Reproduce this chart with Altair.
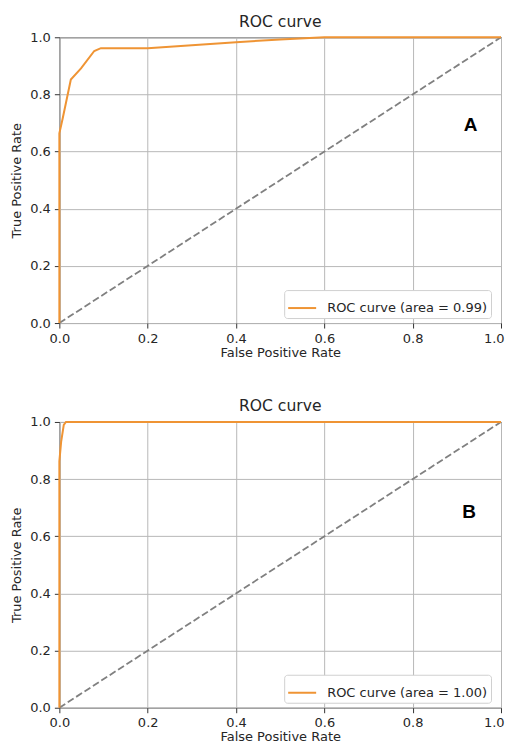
import altair as alt
import pandas as pd

# ---- data ----
fpr_a = [0.0, 0.0, 0.0075, 0.026, 0.049, 0.079, 0.094, 0.2, 0.3, 0.4, 0.5, 0.6, 1.0]
tpr_a = [0.0, 0.664, 0.716, 0.852, 0.891, 0.952, 0.962, 0.962, 0.972, 0.983, 0.992, 1.0, 1.0]
label_a = "ROC curve (area = 0.99)"

fpr_b = [0.0, 0.0, 0.004, 0.01, 0.015, 1.0]
tpr_b = [0.0, 0.862, 0.93, 0.99, 1.0, 1.0]
label_b = "ROC curve (area = 1.00)"

diag_x = [0.0, 1.0]
diag_y = [0.0, 1.0]

panel_letters = ["A", "B"]
letter_x = [0.931, 0.928]
letter_y = [0.693, 0.685]

tick_vals = [0.0, 0.2, 0.4, 0.6, 0.8, 1.0]
title_text = "ROC curve"
x_title = "False Positive Rate"
y_title = "True Positive Rate"

ORANGE = "#ef9434"
FONT = "DejaVu Sans"
TXT = "#262626"


def panel(fpr, tpr, label, letter, lx, ly):
    roc = pd.DataFrame({"fpr": fpr, "tpr": tpr, "idx": list(range(len(fpr))), "series": [label] * len(fpr)})
    diag = pd.DataFrame({"fpr": diag_x, "tpr": diag_y})
    let = pd.DataFrame({"fpr": [lx], "tpr": [ly], "t": [letter]})

    xenc = alt.X("fpr:Q", scale=alt.Scale(domain=[0, 1], nice=False, zero=False),
                 axis=alt.Axis(values=tick_vals, format=".1f", title=x_title, labelFlush=False,
                               titlePadding=1,
                               labelAlign=alt.expr("datum.value >= 1 ? 'right' : 'center'"),
                               labelOffset=alt.expr("datum.value >= 1 ? 3 : 0")))
    yenc = alt.Y("tpr:Q", scale=alt.Scale(domain=[0, 1], nice=False, zero=False),
                 axis=alt.Axis(values=tick_vals, format=".1f", title=y_title, labelFlush=False))

    diag_layer = alt.Chart(diag).mark_line(color="#808080", strokeWidth=1.8, strokeDash=[7, 3]).encode(
        x=xenc, y=yenc)
    roc_layer = alt.Chart(roc).mark_line(strokeWidth=2).encode(
        x=xenc, y=yenc, order="idx:Q",
        color=alt.Color("series:N", scale=alt.Scale(domain=[label], range=[ORANGE]),
                        legend=alt.Legend(title=None, orient="none", legendX=225, legendY=253,
                                          symbolType="stroke", symbolSize=784, symbolStrokeWidth=2,
                                          labelFontSize=13, labelFont=FONT, labelColor=TXT, labelLimit=0,
                                          labelOffset=10, padding=3, strokeColor="#d0d0d0",
                                          fillColor="white", cornerRadius=3)))
    letter_layer = alt.Chart(let).mark_text(font="Liberation Sans", fontWeight="bold", fontSize=19,
                                            color="black").encode(x=xenc, y=yenc, text="t:N")
    return alt.layer(diag_layer, roc_layer, letter_layer).properties(
        width=442, height=286,
        title=alt.TitleParams(title_text, font=FONT, fontSize=15.6, fontWeight="normal", color=TXT, offset=1))


pa = panel(fpr_a, tpr_a, label_a, panel_letters[0], letter_x[0], letter_y[0])
pb = panel(fpr_b, tpr_b, label_b, panel_letters[1], letter_x[1], letter_y[1])

chart = alt.vconcat(pa, pb, spacing=38).resolve_scale(color="independent").resolve_legend(
    color="independent").properties(
    padding={"left": 1.4, "top": 5, "right": 0, "bottom": 0}
).configure_view(stroke="#333333", strokeWidth=1).configure_axis(
    domain=False, grid=True, gridColor="#b8b8b8", gridWidth=1, tickColor="#333333", tickSize=5,
    labelFont=FONT, labelFontSize=13, labelColor=TXT, labelPadding=4,
    titleFont=FONT, titleFontSize=13, titleFontWeight="normal", titleColor=TXT, titlePadding=3
).configure_axisY(labelPadding=4, titlePadding=6)

chart.save("out.html", embed_options={"renderer": "svg", "actions": False})
